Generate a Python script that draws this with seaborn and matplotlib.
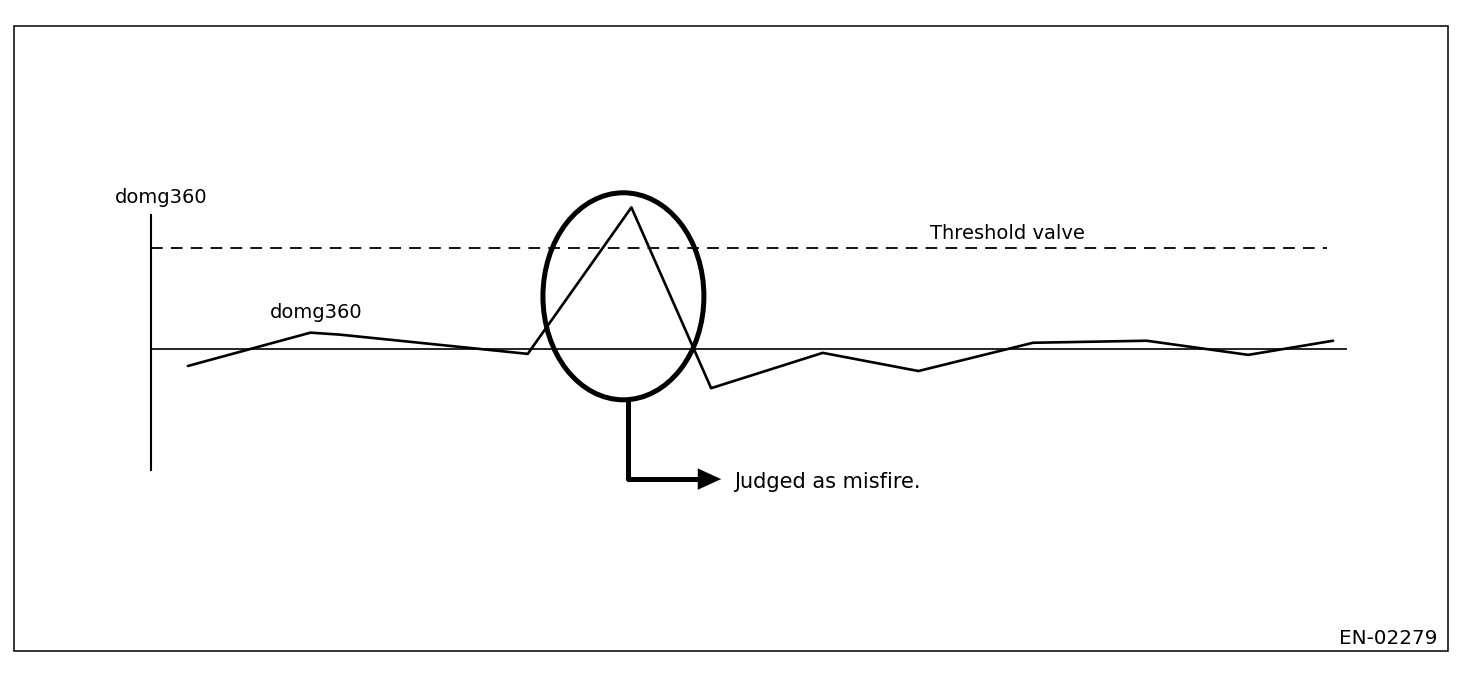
import numpy as np
import pandas as pd
import matplotlib
matplotlib.use('Agg')
import matplotlib.pyplot as plt
import seaborn as sns
from matplotlib.patches import Ellipse, Rectangle

# domg360 samples (threshold = 1.0)
cycle = [0.37, 1.60, 1.90, 3.78, 4.82, 5.62, 6.74, 7.70, 8.85, 9.99, 11.01, 11.86]
domg360 = [-0.17, 0.16, 0.14, -0.05, 1.40, -0.39, -0.04, -0.22, 0.06, 0.08, -0.06, 0.08]
threshold = 1.0
misfire_x = 4.74      # cycle judged as misfire
misfire_y = 0.52
label_axis = 'domg360'
label_line = 'domg360'
label_threshold = 'Threshold valve'
label_misfire = 'Judged as misfire.'
fig_id = 'EN-02279'

sns.set_theme(style='white')
plt.rcParams['font.family'] = ['DejaVu Sans']
plt.rcParams['text.color'] = 'black'

W, H = 1472, 678
fig = plt.figure(figsize=(W / 100, H / 100), dpi=100)
ax = fig.add_axes([151 / W, 1 - 470 / H, 1196 / W, 255 / H])
ax.set_xlim(0, 12)
ax.set_ylim(-1.2, 1.325)
ax.patch.set_alpha(0)

df = pd.DataFrame({'cycle': cycle, 'domg360': domg360})
sns.lineplot(data=df, x='cycle', y='domg360', color='black', linewidth=1.9,
             sort=False, ax=ax, clip_on=False)

ax.axhline(0, color='black', linewidth=1.2)
ax.axhline(threshold, xmax=0.983, color='black', linewidth=1.3, linestyle=(0, (6.5, 4.5)))

# circle around the misfire peak
ell = Ellipse((misfire_x, misfire_y), 1.615, 2.05, fill=False, edgecolor='black',
              linewidth=3.6, clip_on=False)
ax.add_patch(ell)
bottom = misfire_y - 2.05 / 2
lead_y = -1.29
lead_x = misfire_x + 0.05
ax.plot([lead_x, lead_x, lead_x + 0.7], [bottom, lead_y, lead_y], color='black',
        linewidth=3.6, clip_on=False, solid_capstyle='butt')
ax.annotate('', xy=(lead_x + 0.93, lead_y), xytext=(lead_x + 0.6, lead_y),
            arrowprops=dict(arrowstyle='-|>,head_length=0.83,head_width=0.38',
                            mutation_scale=20, color='black', lw=0.1,
                            shrinkA=0, shrinkB=0), annotation_clip=False)

ax.text(-0.36, 1.445, label_axis, fontsize=14, va='baseline', ha='left', color='black')
ax.text(1.19, 0.31, label_line, fontsize=14, va='baseline', ha='left', color='black')
ax.text(7.82, 1.09, label_threshold, fontsize=14, va='baseline', ha='left', color='black')
ax.text(5.85, -1.375, label_misfire, fontsize=15, va='baseline', ha='left', color='black')

for s in ['top', 'right', 'bottom']:
    ax.spines[s].set_visible(False)
ax.spines['left'].set_color('black')
ax.spines['left'].set_linewidth(1.5)
ax.set_xticks([])
ax.set_yticks([])
ax.set_xlabel('')
ax.set_ylabel('')

fig.patches.append(Rectangle((14 / W, 1 - 651 / H), 1434 / W, 625 / H, fill=False,
                             edgecolor='black', linewidth=1.1, transform=fig.transFigure))
fig.text(1437 / W, 1 - 644 / H, fig_id, fontsize=14.3, ha='right', va='baseline', color='black')

fig.savefig('out.png', dpi=100)
